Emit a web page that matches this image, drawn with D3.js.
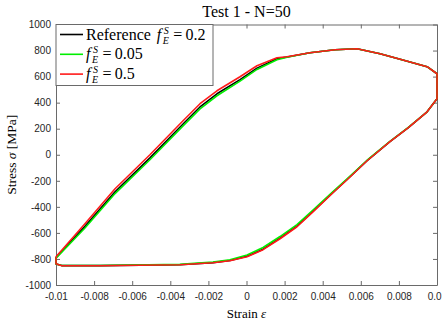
<!DOCTYPE html>
<meta charset="utf-8">
<style>
body { margin: 0; background: #fff; }
.tick text { font-family: "Liberation Sans", Arial, sans-serif; font-size: 10px; fill: #262626; }
.serif { font-family: "Liberation Serif", "Times New Roman", serif; fill: #000; }
.curve { fill: none; stroke-width: 1.6px; stroke-linejoin: round; }
</style>
<body>
<script src="https://d3js.org/d3.v7.min.js"></script>
<script>
// strain values shared by all three runs (loop points)
var strain = [-0.01, -0.01, -0.0097, -0.0077, -0.0035, -0.00176, -0.00087, 0.00003, 0.00087, 0.00176,
  0.00265, 0.00349, 0.00454, 0.00528, 0.00633, 0.00753, 0.00848, 0.00948, 0.01, 0.01,
  0.00948, 0.00816, 0.00701, 0.0058, 0.00465, 0.00333, 0.00213, 0.0016, 0.00055, -0.00034,
  -0.00155, -0.00244, -0.00333, -0.00507, -0.0069, -0.00848, -0.01];

// stress [MPa]
var stressRef = [-786, -838, -851, -851, -844, -828, -812, -780, -725, -640,
  -548, -434, -290, -190, -45, 100, 207, 330, 430, 622,
  676, 729, 775, 814, 806, 783, 750, 737, 665, 577,
  468, 367, 236, -24, -285, -550, -790];
var stress005 = [-790, -838, -850, -850, -842, -824, -806, -770, -712, -628,
  -536, -424, -282, -185, -42, 102, 208, 330, 430, 622,
  676, 729, 775, 814, 806, 783, 748, 730, 655, 565,
  453, 352, 222, -38, -298, -562, -795];
var stress05 = [-783, -837, -852, -852, -845, -829, -814, -783, -729, -645,
  -553, -438, -292, -192, -46, 100, 207, 330, 430, 622,
  676, 729, 775, 814, 806, 783, 752, 745, 683, 599,
  491, 392, 261, 0, -261, -530, -783];

var xTicks = [-0.01, -0.008, -0.006, -0.004, -0.002, 0, 0.002, 0.004, 0.006, 0.008, 0.01];
var yTicks = [-1000, -800, -600, -400, -200, 0, 200, 400, 600, 800, 1000];

var series = [
  {name: "Reference", value: "0.2", color: "#000000", stress: stressRef},
  {name: "", value: "0.05", color: "#00ee00", stress: stress005},
  {name: "", value: "0.5", color: "#ff1a1a", stress: stress05}
];

var margin = {top: 24.5, right: 5, bottom: 43, left: 56},
    width = 442 - margin.left - margin.right,
    height = 328 - margin.top - margin.bottom;

var x = d3.scaleLinear().domain([-0.01, 0.01]).range([0, width]);
var y = d3.scaleLinear().domain([-1000, 1000]).range([height, 0]);

var svg = d3.select("body").append("svg")
    .attr("width", 442)
    .attr("height", 328);
var g = svg.append("g")
    .attr("transform", "translate(" + margin.left + "," + margin.top + ")");

var fmtX = function(d) { return d === 0 ? "0" : String(+d.toFixed(3)); };
var fmtY = function(d) { return String(d); };

// axes with inward ticks on all sides
function styleAxis(sel) {
  sel.select(".domain").attr("stroke", "#6a6a6a");
  sel.selectAll(".tick line").attr("stroke", "#6a6a6a");
}
g.append("g").attr("transform", "translate(0," + height + ")")
  .call(d3.axisBottom(x).tickValues(xTicks).tickFormat(fmtX).tickSizeInner(-4).tickSizeOuter(0).tickPadding(8))
  .call(styleAxis);
g.append("g")
  .call(d3.axisLeft(y).tickValues(yTicks).tickFormat(fmtY).tickSizeInner(-4).tickSizeOuter(0).tickPadding(5))
  .call(styleAxis);
g.append("g")
  .call(d3.axisTop(x).tickValues(xTicks).tickFormat("").tickSizeInner(-4).tickSizeOuter(0))
  .call(styleAxis);
g.append("g").attr("transform", "translate(" + width + ",0)")
  .call(d3.axisRight(y).tickValues(yTicks).tickFormat("").tickSizeInner(-4).tickSizeOuter(0))
  .call(styleAxis);

// curves
var line = d3.line()
  .x(function(d, i) { return x(strain[i]); })
  .y(function(d) { return y(d); });

series.forEach(function(s) {
  g.append("path")
    .attr("class", "curve")
    .attr("stroke", s.color)
    .attr("d", line(s.stress));
});

// title and axis labels
svg.append("text").attr("class", "serif")
  .attr("x", margin.left + width / 2).attr("y", 17)
  .attr("text-anchor", "middle").style("font-size", "16px")
  .text("Test 1 - N=50");

var xl = svg.append("text").attr("class", "serif")
  .attr("x", margin.left + width / 2).attr("y", 318)
  .attr("text-anchor", "middle").style("font-size", "13px");
xl.append("tspan").text("Strain ");
xl.append("tspan").style("font-style", "italic").text("\u03b5");

var yl = svg.append("text").attr("class", "serif")
  .attr("transform", "translate(16," + (margin.top + height / 2) + ") rotate(-90)")
  .attr("text-anchor", "middle").style("font-size", "13.5px");
yl.append("tspan").text("Stress ");
yl.append("tspan").style("font-style", "italic").text("\u03c3");
yl.append("tspan").text(" [MPa]");

// legend
var leg = svg.append("g").attr("transform", "translate(" + margin.left + "," + margin.top + ")");
leg.append("rect")
  .attr("x", 0).attr("y", 0).attr("width", 157).attr("height", 61)
  .attr("fill", "#fff").attr("stroke", "#6a6a6a").attr("stroke-width", 1);

function fLabel(parent, x0, y0, value) {
  var f = parent.append("text").attr("class", "serif").attr("x", x0).attr("y", y0)
    .style("font-size", "16px").style("font-style", "italic").text("f");
  var w = f.node().getComputedTextLength();
  parent.append("text").attr("class", "serif").attr("x", x0 + w + 2.5).attr("y", y0 - 6)
    .style("font-size", "10px").style("font-style", "italic").text("S");
  parent.append("text").attr("class", "serif").attr("x", x0 + w + 1.5).attr("y", y0 + 4)
    .style("font-size", "10px").style("font-style", "italic").text("E");
  parent.append("text").attr("class", "serif").attr("x", x0 + w + 12).attr("y", y0)
    .style("font-size", "16px").text("=\u2009" + value);
}

series.forEach(function(s, i) {
  var ly = 10 + i * 19.8;
  leg.append("line")
    .attr("x1", 4).attr("x2", 27).attr("y1", ly).attr("y2", ly)
    .attr("stroke", s.color).attr("stroke-width", 1.6);
  var tx = 30;
  if (s.name) {
    var t = leg.append("text").attr("class", "serif").attr("x", tx).attr("y", ly + 5)
      .style("font-size", "16px").text(s.name);
    tx += t.node().getComputedTextLength() + 6;
  }
  fLabel(leg, tx, ly + 5, s.value);
});
</script>
</body>
